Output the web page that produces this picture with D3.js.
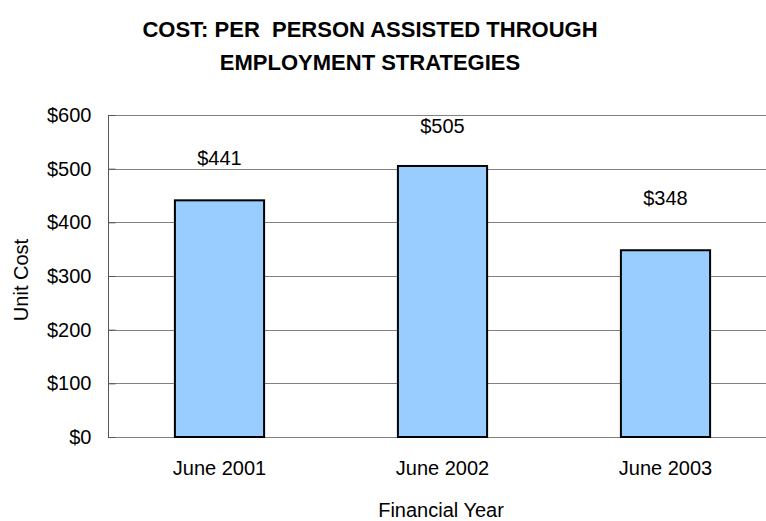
<!DOCTYPE html>
<html>
<head>
<meta charset="utf-8">
<script src="https://cdn.jsdelivr.net/npm/d3@7"></script>
<style>
  body { margin: 0; background: #fff; }
  svg { display: block; font-family: "Liberation Sans", Arial, sans-serif; }
</style>
</head>
<body>
<svg id="chart" width="766" height="521"></svg>
<script>
// Unit cost per person assisted, by financial year
const categories = ["June 2001", "June 2002", "June 2003"];
const unitCost = [441, 505, 348];
const yTicks = [0, 100, 200, 300, 400, 500, 600];
// vertical lift of each value label above its bar (px)
const labelLift = [35, 33, 45];

const svg = d3.select("#chart");
const W = 766;
const plot = { left: 108, right: 777, top: 115, bottom: 437 };
const FONT = 20;

const x = d3.scaleBand()
  .domain(categories)
  .range([plot.left, plot.right])
  .paddingInner(0.6)
  .paddingOuter(0.3);

const y = d3.scaleLinear().domain([0, 600]).range([plot.bottom, plot.top]);

// Title (two lines)
const title = svg.append("text")
  .attr("text-anchor", "middle")
  .attr("font-weight", "bold")
  .attr("font-size", 22)
  .attr("fill", "#000")
  .style("white-space", "pre");
title.append("tspan").attr("x", 370).attr("y", 37).text("COST: PER  PERSON ASSISTED THROUGH");
title.append("tspan").attr("x", 370).attr("y", 70).text("EMPLOYMENT STRATEGIES");

// Gridlines
svg.append("g")
  .selectAll("line")
  .data(yTicks.filter(d => d > 0))
  .join("line")
  .attr("x1", plot.left)
  .attr("x2", W)
  .attr("y1", d => Math.round(y(d)) + 0.5)
  .attr("y2", d => Math.round(y(d)) + 0.5)
  .attr("stroke", "#808080")
  .attr("stroke-width", 1);

// Baseline
svg.append("line")
  .attr("x1", plot.left).attr("x2", W)
  .attr("y1", Math.round(y(0)) + 0.5).attr("y2", Math.round(y(0)) + 0.5)
  .attr("stroke", "#808080").attr("stroke-width", 1);

// Bars
svg.append("g")
  .selectAll("rect")
  .data(unitCost)
  .join("rect")
  .attr("x", (d, i) => x(categories[i]))
  .attr("y", d => y(d))
  .attr("width", x.bandwidth())
  .attr("height", d => y(0) - y(d))
  .attr("fill", "#99CCFF")
  .attr("stroke", "#000")
  .attr("stroke-width", 2);

// Value labels
svg.append("g")
  .selectAll("text")
  .data(unitCost)
  .join("text")
  .attr("x", (d, i) => x(categories[i]) + x.bandwidth() / 2)
  .attr("y", (d, i) => y(d) - labelLift[i])
  .attr("text-anchor", "middle")
  .attr("font-size", FONT)
  .attr("fill", "#000")
  .text(d => "$" + d);

// Y axis
const yAxis = d3.axisLeft(y)
  .tickValues(yTicks)
  .tickSize(-7)
  .tickPadding(17)
  .tickFormat(d => "$" + d);
const gy = svg.append("g")
  .attr("transform", `translate(${plot.left + 0.5},0)`)
  .call(yAxis);
gy.select(".domain").attr("stroke", "#555").attr("d", `M0,${plot.top}V${Math.round(y(0)) + 1}`);
gy.selectAll(".tick line").attr("stroke", "#555");
gy.selectAll(".tick text")
  .attr("font-size", FONT)
  .attr("font-family", "\"Liberation Sans\", Arial, sans-serif")
  .attr("fill", "#000");

// Category labels
svg.append("g")
  .selectAll("text")
  .data(categories)
  .join("text")
  .attr("x", d => x(d) + x.bandwidth() / 2)
  .attr("y", 475)
  .attr("text-anchor", "middle")
  .attr("font-size", FONT)
  .attr("fill", "#000")
  .text(d => d);

// Axis titles
svg.append("text")
  .attr("x", 441).attr("y", 517)
  .attr("text-anchor", "middle")
  .attr("font-size", FONT)
  .text("Financial Year");

svg.append("text")
  .attr("transform", "translate(28,280) rotate(-90)")
  .attr("text-anchor", "middle")
  .attr("font-size", FONT)
  .text("Unit Cost");
</script>
</body>
</html>
